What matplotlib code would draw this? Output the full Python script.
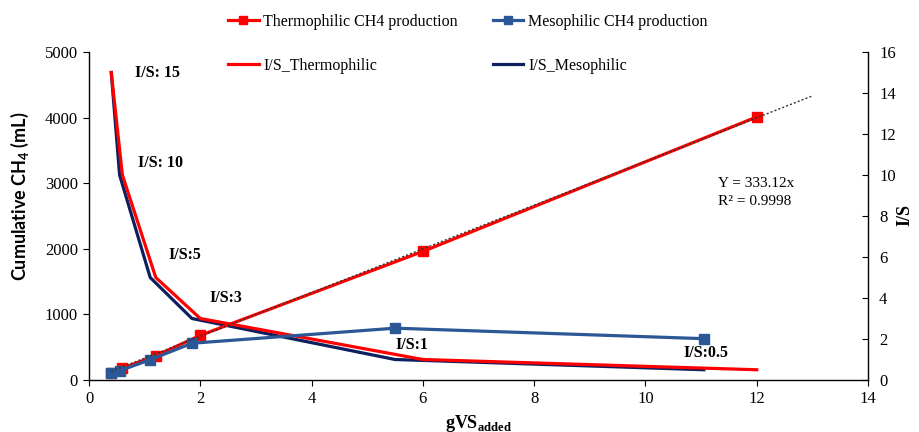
import numpy as np
import matplotlib
matplotlib.use('Agg')
import matplotlib.pyplot as plt

# data
thermo_gvs = [0.4, 0.6, 1.2, 2.0, 6.0, 12.0]
thermo_ch4 = [100, 180, 370, 680, 1960, 4010]
meso_gvs = [0.4, 0.55, 1.1, 1.85, 5.5, 11.05]
meso_ch4 = [100, 140, 310, 560, 790, 630]
is_ratio = [15, 10, 5, 3, 1, 0.5]
is_labels = ['I/S: 15', 'I/S: 10', 'I/S:5', 'I/S:3', 'I/S:1', 'I/S:0.5']
trend_slope = 333.12
trend_r2 = 0.9998
trend_end = 13

RED = '#ff0000'
STEEL = '#2b5797'
NAVY = '#0c1f5e'
SERIF = 'Liberation Serif'

plt.rcParams['font.family'] = SERIF
plt.rcParams['mathtext.fontset'] = 'custom'
plt.rcParams['mathtext.rm'] = SERIF
plt.rcParams['mathtext.bf'] = SERIF + ':bold'
plt.rcParams['mathtext.sf'] = 'Lato:bold'

fig = plt.figure(figsize=(9.19, 4.32), dpi=100)
ax = fig.add_axes([89 / 919, 1 - 380 / 432, (868 - 89) / 919, (380 - 52) / 432])
ax2 = ax.twinx()

# I/S curves on the secondary axis
l_is_m, = ax2.plot(meso_gvs, is_ratio, color=NAVY, lw=2.3, label='I/S_Mesophilic', zorder=2)
l_is_t, = ax2.plot(thermo_gvs, is_ratio, color=RED, lw=2.3, label='I/S_Thermophilic', zorder=3)

# CH4 production on the primary axis (drawn above twin axis)
ax.set_zorder(ax2.get_zorder() + 1)
ax.patch.set_visible(False)
l_t, = ax.plot(thermo_gvs, thermo_ch4, color=RED, lw=2.3, marker='s', ms=6.5,
               label='Thermophilic CH4 production', zorder=3)
l_m, = ax.plot(meso_gvs, meso_ch4, color=STEEL, lw=2.3, marker='s', ms=6.5,
               label='Mesophilic CH4 production', zorder=4)
tx = np.array([thermo_gvs[0], trend_end])
ax.plot(tx, trend_slope * tx, color='#333333', lw=1.0, ls=(0, (1.5, 1.5)), zorder=5)

ax.set_xlim(0, 14)
ax.set_ylim(0, 5000)
ax2.set_ylim(0, 16)
ax.set_xticks(range(0, 15, 2))
ax.set_yticks(range(0, 5001, 1000))
ax2.set_yticks(range(0, 17, 2))

for a in (ax, ax2):
    a.spines['top'].set_visible(False)
    for s in a.spines.values():
        s.set_linewidth(1.0)
ax.spines['right'].set_visible(False)
ax2.spines['left'].set_visible(False)
ax2.spines['bottom'].set_visible(False)
ax.tick_params(axis='both', direction='out', length=4, labelsize=12, pad=4)
ax2.tick_params(axis='y', direction='in', length=4, labelsize=12, pad=8)

ax.set_xlabel('gVS$_{\\mathbf{added}}$', fontsize=13, fontweight='bold', labelpad=4)
fig.text(20 / 919, 1 - 196 / 432, 'Cumulative CH$_\\mathsf{4}$ (mL)', rotation=90,
         ha='center', va='center', fontsize=13, fontweight='bold', family='Lato')
fig.text(905 / 919, 1 - 215 / 432, 'I/S', rotation=90, ha='center', va='center',
         fontsize=13, fontweight='bold')

# I/S annotations
label_pos = [(0.83, 15.0), (0.88, 10.6), (1.42, 6.1), (2.17, 4.0), (5.5, 1.7), (10.68, 1.3)]
for txt, (x, y) in zip(is_labels, label_pos):
    ax2.text(x, y, txt, ha='left', va='center', fontsize=11.5, fontweight='bold')

ax2.text(11.3, 9.15, 'Y = %.2fx\nR² = %.4f' % (trend_slope, trend_r2), ha='left', va='center',
         fontsize=11, linespacing=1.45)

fig.legend([l_t, l_is_t, l_m, l_is_m],
           ['Thermophilic CH4 production', 'I/S_Thermophilic',
            'Mesophilic CH4 production', 'I/S_Mesophilic'],
           ncol=2, loc='center', bbox_to_anchor=(468 / 919, 1 - 44 / 432), frameon=False,
           fontsize=11.5, handlelength=1.9, handletextpad=0.3, columnspacing=2.2,
           labelspacing=1.75, markerscale=0.8)

fig.savefig('out.png', dpi=100)
